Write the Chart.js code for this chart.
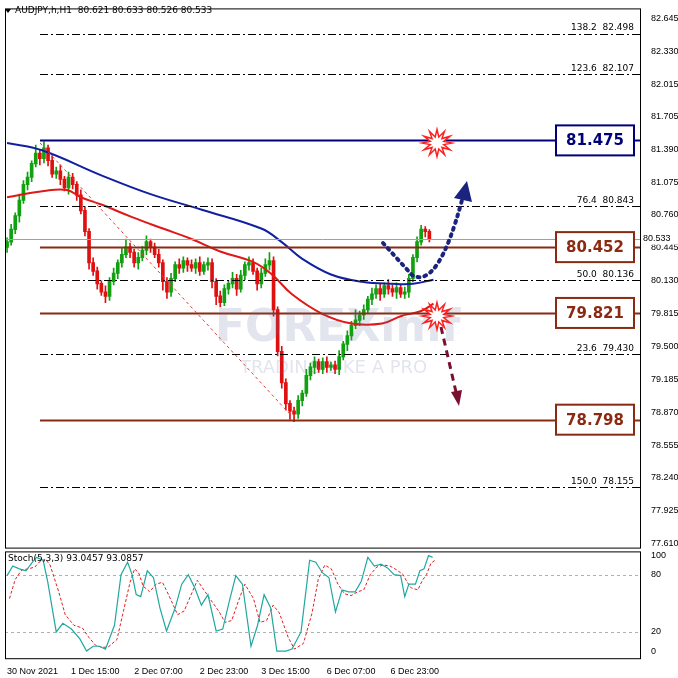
<!DOCTYPE html>
<html><head><meta charset="utf-8">
<script src="https://cdn.jsdelivr.net/npm/chart.js@4.4.0/dist/chart.umd.min.js"></script>
<style>
html,body{margin:0;padding:0;background:#fff;width:678px;height:678px;overflow:hidden}
#wrap{position:relative;width:678px;height:678px}
#c1{position:absolute;left:0;top:0}
#c2{position:absolute;left:0;top:543px}
</style></head><body><div id="wrap">
<canvas id="c1" width="678" height="556"></canvas>
<canvas id="c2" width="678" height="134"></canvas>
</div>
<script>
const closes=[80.50,80.62,80.75,80.90,81.05,81.12,81.25,81.35,81.30,81.40,
81.28,81.15,81.18,81.10,81.02,81.12,81.05,80.95,80.80,80.60,
80.30,80.22,80.10,80.02,79.98,80.12,80.20,80.30,80.38,80.45,
80.40,80.30,80.35,80.42,80.50,80.45,80.38,80.30,80.12,80.02,
80.15,80.28,80.25,80.32,80.28,80.25,80.30,80.22,80.28,80.30,
80.12,79.98,79.92,80.05,80.10,80.15,80.05,80.18,80.28,80.30,
80.22,80.10,80.20,80.28,80.32,79.85,79.45,79.15,78.95,78.88,
78.85,78.98,79.05,79.22,79.30,79.35,79.28,79.35,79.30,79.32,
79.28,79.40,79.52,79.60,79.70,79.75,79.80,79.85,79.95,80.00,
80.05,80.00,80.08,80.05,80.02,80.06,80.00,80.02,80.15,80.35,
80.50,80.62,80.60,80.533];
const firstOpen=80.45;
const wickUp=[0.04,0.05,0.03,0.06,0.04,0.05,0.03,0.08,0.04,0.06,0.03,0.05,0.04,0.06,0.03,0.05,0.04,0.03,0.05,0.04,
0.03,0.05,0.04,0.03,0.06,0.04,0.05,0.03,0.06,0.08,0.04,0.03,0.05,0.04,0.06,0.03,0.04,0.05,0.03,0.04,
0.05,0.03,0.06,0.04,0.03,0.05,0.04,0.06,0.03,0.05,0.04,0.03,0.05,0.04,0.03,0.06,0.04,0.05,0.03,0.06,
0.04,0.03,0.05,0.06,0.08,0.04,0.03,0.05,0.04,0.03,0.04,0.05,0.03,0.06,0.04,0.05,0.03,0.04,0.05,0.03,
0.04,0.06,0.03,0.05,0.04,0.10,0.04,0.05,0.03,0.06,0.04,0.05,0.03,0.06,0.04,0.05,0.03,0.05,0.04,0.03,
0.05,0.04,0.03,0.02];
const wickDn=[0.05,0.03,0.04,0.06,0.03,0.05,0.04,0.03,0.06,0.04,0.05,0.03,0.04,0.05,0.03,0.06,0.04,0.05,0.03,0.04,
0.06,0.04,0.05,0.03,0.06,0.04,0.03,0.05,0.04,0.03,0.05,0.04,0.06,0.03,0.04,0.05,0.03,0.04,0.08,0.06,
0.04,0.03,0.05,0.04,0.06,0.03,0.05,0.04,0.03,0.05,0.06,0.08,0.04,0.03,0.05,0.04,0.06,0.03,0.04,0.05,
0.03,0.06,0.04,0.03,0.05,0.06,0.04,0.05,0.06,0.08,0.07,0.04,0.05,0.03,0.04,0.06,0.03,0.04,0.05,0.03,
0.04,0.05,0.03,0.06,0.04,0.03,0.05,0.04,0.03,0.05,0.04,0.06,0.03,0.05,0.04,0.06,0.03,0.04,0.05,0.03,
0.04,0.03,0.05,0.03];
const maBlueIdx=[0,8.5,23,35,47.5,62,67,72,79,86.6,94,99,104];
const maBlueVal=[81.45,81.38,81.14,80.96,80.81,80.63,80.50,80.34,80.19,80.12,80.10,80.10,80.14];
const maRedIdx=[0,9,14.6,18,23,30.5,38,45,52,60,64.6,69.5,77,84,91.5,96,101,104];
const maRedVal=[80.93,80.99,81.0,80.93,80.86,80.74,80.63,80.53,80.41,80.31,80.19,80.0,79.81,79.72,79.72,79.79,79.84,79.91];
const priceTicks=[82.645,82.330,82.015,81.705,81.390,81.075,80.760,80.445,80.130,79.815,79.500,79.185,78.870,78.555,78.240,77.925,77.610];
const fibLevels=[82.498,82.107,80.843,80.136,79.430,78.155];
const fibNames=['138.2','123.6','76.4','50.0','23.6','150.0'];
const keyLevels=[81.475,80.452,79.821,78.798];
const lastPrice=80.533;
const stochIdx=[0,1.4,3,4.6,6.2,7.2,8.8,9.9,12,13.6,15.7,17.8,19.4,21,22.5,24,26.2,27.8,29.4,30.5,31.5,32.6,34.2,35.7,37.3,38.9,41,42.6,44.2,45.8,47.4,49,51,52.6,54.2,55.8,57.4,59.5,61.1,62.7,64.3,65.8,68,69.5,71.7,73.8,75.3,76.9,78.5,80.1,81.7,83.3,84.9,86.4,88,89.6,91.2,92.8,94.4,96,97,98,99.6,100.7,101.7,102.8,103.8];
const stochK=[79,89,86,84,93,98,95,73,20,29,23,12.5,0,5,5,2,27,80,93,80,59,57,84,77,45,21,45,70,80,66,48,59,21,23,52,79,70,5,27,59,45,0,0,2,20,95,93,82,77,41,64,62,62,73,98,89,91,87,80,79,57,70,70,84,86,100,98];
const stochD=[55,75,85,86,88,93,96,90,62,38,27,24,14,6,4,4,12,42,72,86,82,68,62,70,72,58,38,42,58,74,64,54,42,30,32,52,70,55,30,32,48,40,14,2,8,40,75,90,86,70,60,58,62,64,80,88,90,89,85,80,72,66,64,74,80,92,95];
const stochTickIdx=[0,15.6,31,47,62,78,93.5];
const stochTickLbl=['30 Nov 2021','1 Dec 15:00','2 Dec 07:00','2 Dec 23:00','3 Dec 15:00','6 Dec 07:00','6 Dec 23:00'];

const opens=closes.map((c,i)=>i===0?firstOpen:closes[i-1]);
const highs=closes.map((c,i)=>Math.max(c,opens[i])+wickUp[i]);
const lows=closes.map((c,i)=>Math.min(c,opens[i])-wickDn[i]);
const candleCol=closes.map((c,i)=>c>=opens[i]?'#10a010':'#e01010');
const FONT='"DejaVu Sans", sans-serif';
const AFONT='"Liberation Sans", sans-serif';
const XMIN=-0.5, XMAX=-0.5+635/4.1;

function fixRight(w){return function(s){s.width=w;};}

const overlay={id:'ov',afterDatasetsDraw(ch){
 const c=ch.ctx,y=ch.scales.y,a=ch.chartArea;
 const px=v=>y.getPixelForValue(v);
 c.save();
 c.strokeStyle='#a0a0a0';c.lineWidth=1;c.beginPath();c.moveTo(a.left,Math.round(px(lastPrice))+0.5);c.lineTo(a.right,Math.round(px(lastPrice))+0.5);c.stroke();
 c.strokeStyle='#000';c.setLineDash([8,3,2,3]);
 fibLevels.forEach((v,i)=>{const yy=Math.round(px(v))+0.5;c.beginPath();c.moveTo(40,yy);c.lineTo(a.right,yy);c.stroke();});
 c.setLineDash([]);
 c.font='9px '+FONT;c.textAlign='right';c.textBaseline='bottom';
 fibLevels.forEach((v,i)=>{const yy=px(v);const t=fibNames[i]+'  '+v.toFixed(3);const w=c.measureText(t).width;
  c.fillStyle='#fff';c.fillRect(634-w-2,yy-10,w+4,9);c.fillStyle='#000';c.fillText(t,634,yy-1);});
 const cols=['#00007a','#8b2a12','#8b2a12','#8b2a12'];
 keyLevels.forEach((v,i)=>{const yy=Math.round(px(v))+0.5;c.strokeStyle=cols[i];c.lineWidth=2;c.beginPath();c.moveTo(40,yy);c.lineTo(a.right,yy);c.stroke();
  if(i===2){c.lineWidth=1;c.strokeStyle='#444';c.setLineDash([3,3]);c.beginPath();c.moveTo(40,yy);c.lineTo(a.right,yy);c.stroke();c.setLineDash([]);}
 });
 keyLevels.forEach((v,i)=>{const yy=px(v);c.fillStyle='#fff';c.fillRect(556,yy-15,78,30);c.strokeStyle=cols[i];c.lineWidth=2;c.strokeRect(556,yy-15,78,30);
  c.fillStyle=cols[i];c.font='bold 15px '+FONT;c.textAlign='center';c.textBaseline='middle';c.fillText(v.toFixed(3),595,yy+1);});
 c.strokeStyle='#e04040';c.lineWidth=1;c.setLineDash([3,3]);c.beginPath();c.moveTo(40,px(81.45));c.lineTo(290,px(78.85));c.stroke();c.setLineDash([]);
 c.globalAlpha=0.18;c.fillStyle='#6070a0';c.font='bold 44px '+FONT;c.textAlign='left';c.textBaseline='middle';c.fillText('FOREXimf',215,330);
 c.font='18px '+FONT;c.fillText('TRADING LIKE A PRO',240,368);c.globalAlpha=1;
 c.strokeStyle='#1a237e';c.lineWidth=4;c.setLineDash([2,5]);c.lineCap='round';
 c.beginPath();c.moveTo(383,243);c.lineTo(412,275);c.quadraticCurveTo(438,290,462,200);c.stroke();
 c.setLineDash([]);c.fillStyle='#1a237e';c.beginPath();c.moveTo(467,181);c.lineTo(454,198);c.lineTo(472,202);c.closePath();c.fill();
 c.strokeStyle='#7a1030';c.lineWidth=3;c.setLineDash([7,5]);c.lineCap='butt';
 c.beginPath();c.moveTo(441,327);c.lineTo(456,392);c.stroke();c.setLineDash([]);
 c.fillStyle='#7a1030';c.beginPath();c.moveTo(459,406);c.lineTo(451,392);c.lineTo(462,390);c.closePath();c.fill();
 [[437,143],[437,316]].forEach(([sx,sy])=>{c.beginPath();for(let k=0;k<24;k++){const r=k%2?7:15;const an=k*Math.PI/12;c.lineTo(sx+r*Math.cos(an),sy+r*Math.sin(an)*0.9);}c.closePath();
  c.fillStyle='#fff';c.fill();c.strokeStyle='#ff2020';c.lineWidth=1.5;c.stroke();});
 c.fillStyle='#000';c.beginPath();c.moveTo(5,9);c.lineTo(11,9);c.lineTo(8,13);c.closePath();c.fill();
 c.font='9px '+FONT;c.textAlign='left';c.textBaseline='middle';c.fillText('AUDJPY,h,H1  80.621 80.633 80.526 80.533',15,11);
 c.fillStyle='#fff';c.fillRect(641,px(lastPrice)-6,37,12);c.fillStyle='#000';c.font='9px '+AFONT;c.fillText('80.533',643,px(lastPrice));
 c.strokeStyle='#000';c.lineWidth=1;c.strokeRect(a.left+0.5,a.top+0.5,a.right-a.left,a.bottom-a.top);
 c.restore();
}};

const candleData=closes.map((c,i)=>({x:i,y:[lows[i],highs[i]]}));
const bodyData=closes.map((c,i)=>({x:i,y:[Math.min(c,opens[i]),Math.max(c,opens[i])+0.004]}));
const blueData=maBlueIdx.map((x,i)=>({x,y:maBlueVal[i]}));
const redData=maRedIdx.map((x,i)=>({x,y:maRedVal[i]}));

new Chart(document.getElementById('c1'),{
 data:{datasets:[
  {type:'line',data:blueData,borderColor:'#1020a0',borderWidth:2,pointRadius:0,tension:0.4,order:1},
  {type:'line',data:redData,borderColor:'#e01818',borderWidth:2,pointRadius:0,tension:0.4,order:1},
  {type:'bar',data:candleData,backgroundColor:candleCol,barThickness:1,grouped:false,order:3},
  {type:'bar',data:bodyData,backgroundColor:candleCol,barThickness:3,grouped:false,order:2}
 ]},
 options:{responsive:false,animation:false,devicePixelRatio:1,
  layout:{padding:{left:5,top:1,right:0,bottom:0}},
  plugins:{legend:{display:false},tooltip:{enabled:false}},
  scales:{
   x:{type:'linear',offset:false,min:XMIN,max:XMAX,display:false},
   y:{position:'right',min:77.572,max:82.74,afterFit:fixRight(38),grid:{display:false},border:{display:false},
      afterBuildTicks(s){s.ticks=priceTicks.map(v=>({value:v}));},
      ticks:{font:{family:AFONT,size:9},color:'#000',padding:3,callback:v=>v.toFixed(3)}}
  }},
 plugins:[overlay]
});

const stochOv={id:'sov',beforeDatasetsDraw(ch){const c=ch.ctx,y=ch.scales.y,a=ch.chartArea;c.save();c.fillStyle='#fff';c.fillRect(a.left,a.top,a.right-a.left,a.bottom-a.top);
 c.strokeStyle='#b0b0b0';c.setLineDash([3,3]);c.lineWidth=1;
 [80,20].forEach(v=>{const yy=Math.round(y.getPixelForValue(v))+0.5;c.beginPath();c.moveTo(a.left,yy);c.lineTo(a.right,yy);c.stroke();});c.restore();},
 afterDatasetsDraw(ch){const c=ch.ctx,a=ch.chartArea;c.save();c.fillStyle='#000';c.font='9px '+FONT;c.textBaseline='middle';c.fillText('Stoch(5,3,3) 93.0457 93.0857',8,a.top+7);
 c.strokeStyle='#000';c.lineWidth=1;c.strokeRect(a.left+0.5,a.top+0.5,a.right-a.left,a.bottom-a.top);c.restore();}};

new Chart(document.getElementById('c2'),{
 data:{datasets:[
  {type:'line',data:stochIdx.map((x,i)=>({x,y:stochK[i]})),borderColor:'#20a8a0',borderWidth:1.2,pointRadius:0,tension:0},
  {type:'line',data:stochIdx.map((x,i)=>({x:x+0.6,y:stochD[i]})),borderColor:'#e02020',borderWidth:1,borderDash:[3,2],pointRadius:0,tension:0}
 ]},
 options:{responsive:false,animation:false,devicePixelRatio:1,
  layout:{padding:{left:5,top:0,right:0,bottom:0}},
  plugins:{legend:{display:false},tooltip:{enabled:false}},
  scales:{
   x:{type:'linear',min:XMIN,max:XMAX,grid:{display:false},border:{display:false},
      afterBuildTicks(s){s.ticks=stochTickIdx.map(v=>({value:v}));},
      ticks:{font:{family:AFONT,size:9},color:'#000',padding:0,maxRotation:0,autoSkip:false,align:'start',callback:(v,i)=>stochTickLbl[i]}},
   y:{position:'right',min:-7.5,max:104.3,afterFit:fixRight(38),grid:{display:false},border:{display:false},
      afterBuildTicks(s){s.ticks=[100,80,20,0].map(v=>({value:v}));},
      ticks:{font:{family:AFONT,size:9},color:'#000',padding:3}}
  }},
 plugins:[stochOv]
});
</script></body></html>
